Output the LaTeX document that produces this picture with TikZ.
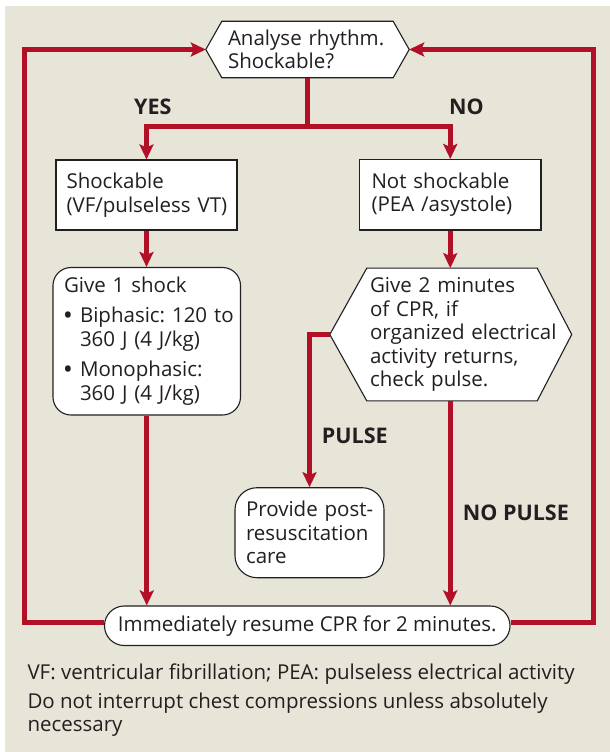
\documentclass[tikz,border=0pt]{standalone}
\usepackage{fontspec}
\setmainfont{Open Sans}
\usetikzlibrary{arrows.meta,shapes.misc,calc}
\definecolor{redc}{RGB}{178,16,38}
\definecolor{bgc}{RGB}{231,228,216}
\definecolor{txtc}{RGB}{35,31,32}
\pgfdeclarelayer{back}
\pgfdeclarelayer{mid}
\pgfsetlayers{back,mid,main}
\frenchspacing
\newcommand\myBodyFont{\fontsize{20.5}{23.5}\selectfont}
\newcommand\myFootFont{\fontsize{20.5}{22.7}\selectfont}
\newcommand\myLblFont{\fontsize{21.5}{24}\selectfont\bfseries}
\newcommand\myBullet{\makebox[16pt][l]{\textbf{\textbullet}}}
\newcommand\myHang{\hspace*{16pt}}
\begin{document}
\begin{tikzpicture}[x=1pt,y=-1pt,
  every node/.style={text=txtc},
  nobreak/.style={execute at begin node={\frenchspacing\hyphenpenalty=10000\exhyphenpenalty=10000\setlength\parindent{0pt}}},
  sqbox/.style={draw=txtc, line width=1.1pt, fill=white, rectangle, align=left, font=\myBodyFont, nobreak},
  rbox/.style={sqbox, rounded corners=#1},
  hexcore/.style={rectangle, align=left, font=\myBodyFont, inner ysep=0pt, nobreak},
  hexline/.style={draw=txtc, line width=1.1pt, fill=white, line join=miter},
  redline/.style={draw=redc, line width=5pt},
  arr/.style={redline, -{Stealth[length=15pt,width=14pt,inset=3pt]}},
  lbl/.style={font=\myLblFont, anchor=base west, inner sep=0pt}]
\useasboundingbox (0,0) rectangle (610,752);
\begin{pgfonlayer}{back}
\fill[bgc] (5,6) rectangle (610,752);
\end{pgfonlayer}

% nodes
\node[hexcore, minimum width=171pt, minimum height=56pt, inner xsep=6pt, text width=159pt] (h1) at (307.5,49.5) {\mbox{Analyse rhythm.}\\Shockable?};
\node[sqbox, minimum height=70pt, inner xsep=10.5pt, text width=160pt] (sh) at (146.5,195) {Shockable\\\mbox{(VF/pulseless VT)}};
\node[sqbox, minimum height=70.5pt, inner xsep=12pt, text width=157.5pt] (ns) at (450.25,194.75) {\mbox{Not shockable}\\\mbox{(PEA /asystole)}};
\node[rbox=18pt, minimum height=147.5pt, inner xsep=11pt, text width=165.5pt] (g1) at (146.75,341.25)
  {\mbox{Give 1 shock}\par\vspace{6.5pt}
   \myBullet\mbox{Biphasic: 120 to}\\\myHang\mbox{360 J (4 J/kg)}\par\vspace{7pt}
   \myBullet\mbox{Monophasic:}\\\myHang\mbox{360 J (4 J/kg)}};
\node[hexcore, minimum width=170pt, minimum height=132.4pt, inner xsep=3pt, text width=164pt] (h2) at (452,334.5)
  {\mbox{Give 2 minutes}\\\mbox{of CPR, if}\\\mbox{organized electrical}\\\mbox{activity returns,}\\\mbox{check pulse.}};
\node[rbox=22pt, minimum height=90pt, inner xsep=11pt, text width=127pt] (pv) at (309.5,532.7) {\mbox{Provide post-}\\\mbox{resuscitation}\\care};
\node[draw=txtc, line width=1.1pt, fill=white, rounded rectangle, minimum width=405.5pt, minimum height=39.5pt, font=\myBodyFont, inner sep=0pt] (imm) at (307.25,625.75) {Immediately resume CPR for 2 minutes.};

% hexagon outlines
\begin{pgfonlayer}{mid}
\draw[hexline] ([xshift=-16pt]h1.west) -- (h1.north west) -- (h1.north east) -- ([xshift=16pt]h1.east) -- (h1.south east) -- (h1.south west) -- cycle;
\draw[hexline] ([xshift=-37pt]h2.west) -- (h2.north west) -- (h2.north east) -- ([xshift=34.5pt]h2.east) -- (h2.south east) -- (h2.south west) -- cycle;
\end{pgfonlayer}

% labels
\node[lbl] (yes) at (134,114.3) {YES};
\node[lbl] (no) at (449,114.3) {NO};
\node[lbl] (pulse) at (321.7,443.3) {PULSE};
\node[lbl] (nopulse) at (462.7,520) {NO PULSE};

% footer
\node[font=\myFootFont, anchor=north west, inner sep=0pt, align=left] (foot) at (27.3,663.4)
  {VF: ventricular fibrillation; PEA: pulseless electrical activity\\[7pt]Do not interrupt chest compressions unless absolutely\\necessary};

% connectors
\coordinate (split) at (307.5,126.5);
\coordinate (TL) at (24,49.5);
\coordinate (TR) at (593,49.5);
\draw[redline] (h1.south) -- (split);
\draw[arr] (split) -| (sh.north);
\draw[arr] (split) -| (ns.north);
\draw[arr] (sh.south) -- (sh.south |- g1.north);
\draw[arr] (ns.south) -- (ns.south |- h2.north);
\draw[arr] ([xshift=-37pt]h2.west) -| (pv.north);
\draw[arr] (g1.south) -- (g1.south |- imm.north);
\draw[arr] (ns.south |- h2.south) -- (ns.south |- imm.north);
\draw[arr] ([yshift=3pt]imm.west) -| (TL) -- ([xshift=-16pt]h1.west);
\draw[arr] ([yshift=3pt]imm.east) -| (TR) -- ([xshift=16pt]h1.east);
\end{tikzpicture}
\end{document}
